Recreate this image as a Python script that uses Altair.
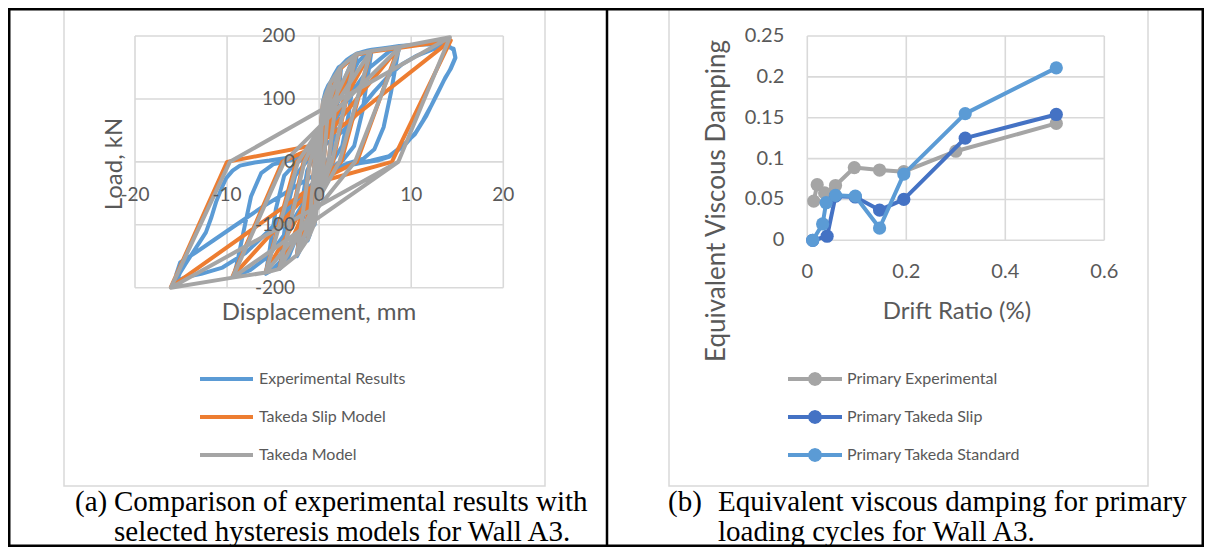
import altair as alt
import pandas as pd

# ---------------- panel (a): hysteresis loops ----------------
hyst_series = ["Experimental Results", "Takeda Slip Model", "Takeda Model"]
hyst_colors = ["#5B9BD5", "#ED7D31", "#A5A5A5"]

exp_disp = [0, 0.15, 0.3, 0.45, 0.35, 0.2, 0.05, -0.15, -0.3, -0.5, -0.4, -0.25, -0.1, 0.1, 0.3, 0.45,
            0.7, 1.0, 1.25, 1.1, 0.8, 0.5, 0.2, -0.2, -0.6, -1.0, -1.25, -1.1, -0.8, -0.5, -0.2, 0.2, 0.6, 1.0, 1.25,
            1.7, 2.1, 2.4, 2.2, 1.8, 1.3, 0.6, 0, -0.7, -1.4, -2.0, -2.4, -2.2, -1.8, -1.3, -0.6, 0, 0.7, 1.4, 2.0, 2.4,
            3.0, 3.6, 4.1, 3.8, 3.2, 2.5, 1.5, 0.5, -0.5, -1.5, -2.6, -3.5, -4.3, -4.0, -3.4, -2.6, -1.5, -0.5, 0.5, 1.5, 2.6, 3.5, 4.1,
            4.8, 5.3, 5.7, 5.4, 4.7, 3.8, 2.6, 1.2, 0, -1.3, -2.8, -4.2, -5.1, -5.8, -5.4, -4.7, -3.8, -2.6, -1.2, 0, 1.3, 2.8, 4.2, 5.1, 5.7,
            6.8, 7.8, 8.7, 8.4, 7.8, 7.0, 6.0, 4.8, 3.0, 1.5, 0, -1.5, -3.5, -5.5, -7.5, -9.3, -8.9, -8.2, -7.4, -6.3, -5.0, -3.0, -1.5, 0, 1.5, 3.5, 5.5, 7.5, 8.7,
            10.5, 12.5, 14.0, 14.6, 14.8, 14.3, 13.7, 12.9, 12.2, 11.3, 10.5, 9.5, 8.6, 7.6, 6.3, 4.5, 2.5, 0.8, -1.0, -3.0, -5.5, -8.0, -10.5, -12.8, -14.5, -15.5,
            -15.1, -14.5, -13.8, -13.0, -12.3, -11.7, -11.2, -10.6, -10.1, -9.4, -8.6, -7.0, -5.4, -3.2, -1.5, 0, 1.5, 3.0, 4.5, 6.0, 7.5, 9.0, 10.5, 12.2, 13.6, 14.6,
            14.8, 14.2, 13.5, 12.6, 11.6, 10.4, 9.0, 7.6, 5.6, 3.2, 1.0, -1.0, -3.5, -6.2, -9.0, -11.5, -13.5, -15.1, -15.5]
exp_load = [0, 40, 75, 98, 70, 30, 0, -35, -70, -100, -70, -30, 0, 35, 75, 98,
            112, 122, 127, 95, 45, 10, -10, -40, -85, -115, -125, -95, -45, -10, 10, 40, 85, 115, 127,
            140, 150, 153, 120, 60, 15, -8, -25, -60, -105, -138, -150, -118, -58, -14, 8, 25, 60, 105, 138, 153,
            162, 168, 172, 140, 75, 25, 2, -12, -35, -78, -125, -158, -170, -135, -70, -22, -2, 12, 35, 78, 125, 158, 172,
            175, 177, 178, 148, 80, 25, 3, -10, -30, -70, -120, -158, -172, -178, -142, -75, -22, -3, 10, 30, 70, 120, 158, 172, 178,
            180, 182, 184, 160, 110, 55, 20, 5, -3, -12, -30, -60, -110, -150, -172, -183, -160, -110, -55, -18, -4, 3, 12, 30, 60, 110, 150, 174, 184,
            186, 187, 185, 178, 165, 148, 134, 110, 90, 66, 47, 30, 19, 8, 2, -2, -8, -18, -38, -70, -110, -145, -168, -178, -183, -190,
            -176, -162, -146, -128, -112, -88, -64, -42, -26, -14, -6, -1, 2, 7, 14, 22, 35, 55, 85, 112, 136, 155, 168, 178, 184, 180,
            166, 146, 128, 102, 72, 44, 25, 9, 2, -5, -13, -25, -48, -72, -100, -125, -145, -160, -178]

slip_disp = [0, 0.4, 0.1, -0.5, -0.15, 0.4,
             1.2, 0.5, 0, -1.2, -0.5, 0, 1.2,
             2.3, 1.0, 0, -2.4, -1.0, 0, 2.3,
             4.0, 1.5, 0, -4.3, -1.7, 0, 4.0,
             5.6, 2.4, 0, -5.8, -2.5, 0, 5.6,
             8.6, 4.1, 0, -9.4, -4.0, 0, 8.6,
             14.3, 7.9, 0, -16.1, -10.0, 0, 14.3,
             7.9, 0, -16.1]
slip_load = [0, 92, 0, -95, 0, 92,
             122, 0, -15, -120, 0, 15, 122,
             148, 0, -20, -146, 0, 20, 148,
             170, 0, -25, -168, 0, 24, 170,
             175, 0, -28, -175, 0, 26, 175,
             181, 0, -30, -182, 0, 27, 181,
             193, 0, -32, -199, 0, 28, 193,
             0, -32, -199]

tak_disp = [0, 0.4, 0.1, -0.5, -0.15, 0.4,
            1.2, 0.5, -0.5, -1.2, -0.5, 1.2,
            2.3, 1.0, -1.2, -2.4, -1.0, 2.3,
            4.0, 1.4, -2.4, -4.3, -1.6, 4.0,
            5.6, 2.2, -4.3, -5.8, -2.3, 5.6,
            8.8, 3.9, -5.8, -9.4, -3.8, 8.8,
            14.2, 8.6, -9.4, -16.1, -9.7, 14.2,
            8.6, -16.1]
tak_load = [0, 95, 0, -98, 0, 95,
            125, 0, -98, -122, 0, 125,
            150, 0, -122, -148, 0, 150,
            171, 0, -148, -170, 0, 171,
            176, 0, -170, -176, 0, 176,
            183, 0, -176, -184, 0, 183,
            198, 0, -184, -200, 0, 198,
            0, -200]

disp_ticks = [-20, -10, 0, 10, 20]
disp_labels = ["-20", "-10", "0", "10", "20"]
load_ticks = [-200, -100, 0, 100, 200]
load_labels = ["-200", "-100", "0", "100", "200"]
hyst_titles = ["Displacement, mm", "Load, kN"]

# ---------------- panel (b): equivalent viscous damping ----------------
damp_series = ["Primary Experimental", "Primary Takeda Slip", "Primary Takeda Standard"]
damp_colors = ["#A5A5A5", "#4472C4", "#5B9BD5"]

drift_exp = [0.013, 0.02, 0.035, 0.057, 0.095, 0.146, 0.195, 0.30, 0.503]
evd_exp = [0.048, 0.068, 0.058, 0.067, 0.089, 0.086, 0.084, 0.109, 0.143]
drift_slip = [0.011, 0.04, 0.057, 0.097, 0.146, 0.195, 0.319, 0.503]
evd_slip = [0.0, 0.005, 0.054, 0.053, 0.037, 0.050, 0.125, 0.154]
drift_std = [0.011, 0.031, 0.038, 0.057, 0.097, 0.146, 0.195, 0.319, 0.503]
evd_std = [0.0, 0.020, 0.046, 0.055, 0.054, 0.015, 0.081, 0.155, 0.211]

drift_ticks = [0, 0.2, 0.4, 0.6]
drift_labels = ["0", "0.2", "0.4", "0.6"]
damp_ticks = [0, 0.05, 0.1, 0.15, 0.2, 0.25]
damp_labels = ["0", "0.05", "0.1", "0.15", "0.2", "0.25"]
damp_titles = ["Drift Ratio (%)", "Equivalent Viscous Damping"]

caption_a = ["(a)", "Comparison of experimental results with", "selected hysteresis models for Wall A3."]
caption_b = ["(b)", "Equivalent viscous damping for primary", "loading cycles for Wall A3."]

# ---------------- styling ----------------
W, H = 1196, 539
FONT = "Lato"
TXT = "#595959"
GRID = "#D9D9D9"

dummy = pd.DataFrame({"k": [0]})


def series_df(name, xs, ys, xname, yname):
    return pd.DataFrame({"series": name, "i": list(range(len(xs))), xname: xs, yname: ys})


def free_text(txt, x, y, size, angle=0, font=FONT, color=TXT, align="center", baseline="middle"):
    return alt.Chart(dummy).mark_text(text=txt, align=align, baseline=baseline, angle=angle,
                                      font=font, fontSize=size, color=color).encode(
        x=alt.value(x), y=alt.value(y))


def grid_layers(xticks, yticks, xs, ys, xlo, xhi, ylo, yhi):
    vg = alt.Chart(pd.DataFrame({"gx": xticks})).mark_rule(color=GRID, strokeWidth=1.6).encode(
        x=alt.X("gx:Q", scale=xs, axis=None),
        y=alt.YDatum(ylo, scale=ys, axis=None), y2=alt.Y2Datum(yhi))
    hg = alt.Chart(pd.DataFrame({"gy": yticks})).mark_rule(color=GRID, strokeWidth=1.6).encode(
        y=alt.Y("gy:Q", scale=ys, axis=None),
        x=alt.XDatum(xlo, scale=xs, axis=None), x2=alt.X2Datum(xhi))
    return [vg, hg]


def tick_label_layers(xticks, xlabels, yticks, ylabels, xs, ys, size, xpad, ypad):
    xl = alt.Chart(pd.DataFrame({"gx": xticks, "lab": xlabels})).mark_text(
        font=FONT, fontSize=size, color=TXT, align="center", baseline="top", dy=xpad).encode(
        x=alt.X("gx:Q", scale=xs, axis=None),
        y=alt.YDatum(0, scale=ys, axis=None), text="lab:N")
    yl = alt.Chart(pd.DataFrame({"gy": yticks, "lab": ylabels})).mark_text(
        font=FONT, fontSize=size, color=TXT, align="right", baseline="middle", dx=-ypad).encode(
        y=alt.Y("gy:Q", scale=ys, axis=None),
        x=alt.XDatum(0, scale=xs, axis=None), text="lab:N")
    return [xl, yl]


# ---- panel a
xs_a = alt.Scale(domain=[-20, 20], range=[127, 495.3], nice=False, zero=False)
ys_a = alt.Scale(domain=[-200, 200], range=[279.7, 28], nice=False, zero=False)
col_a = alt.Scale(domain=hyst_series, range=hyst_colors)

leg_a = alt.Legend(title=None, orient="none", legendX=190, legendY=361, symbolType="stroke",
                   symbolSize=2809, symbolStrokeWidth=4, clipHeight=20, rowPadding=18,
                   labelFont=FONT, labelFontSize=16, labelColor=TXT, labelOffset=4,
                   padding=0, labelLimit=400)

hyst_data = [(exp_disp, exp_load), (slip_disp, slip_load), (tak_disp, tak_load)]
hyst_layers = []
for name, (dd, ll) in zip(hyst_series, hyst_data):
    hyst_layers.append(
        alt.Chart(series_df(name, dd, ll, "disp", "load")).mark_line(
            strokeWidth=4, strokeJoin="round", strokeCap="round").encode(
            x=alt.X("disp:Q", scale=xs_a, axis=None),
            y=alt.Y("load:Q", scale=ys_a, axis=None),
            color=alt.Color("series:N", scale=col_a, legend=leg_a),
            order=alt.Order("i:Q"))
    )
panel_a = alt.layer(
    *grid_layers(disp_ticks, load_ticks, xs_a, ys_a, -20, 20, -200, 200),
    *hyst_layers,
    *tick_label_layers(disp_ticks, disp_labels, load_ticks, load_labels, xs_a, ys_a, 19, 24, 24),
)

# ---- panel b
xs_b = alt.Scale(domain=[0, 0.6], range=[799.3, 1096.3], nice=False, zero=False)
ys_b = alt.Scale(domain=[0, 0.25], range=[232.3, 28], nice=False, zero=False)
col_b = alt.Scale(domain=damp_series, range=damp_colors)

dot_path = ("M-1,0L1,0"
            "M0.185,0L0.16,0.0925L0.0925,0.16L0,0.185L-0.0925,0.16L-0.16,0.0925L-0.185,0"
            "L-0.16,-0.0925L-0.0925,-0.16L0,-0.185L0.0925,-0.16L0.16,-0.0925Z"
            "M0.067,0L0.0335,0.058L-0.0335,0.058L-0.067,0L-0.0335,-0.058L0.0335,-0.058Z")
leg_b = alt.Legend(title=None, orient="none", legendX=778, legendY=361, symbolType=dot_path,
                   symbolSize=2916, symbolStrokeWidth=4, clipHeight=20, rowPadding=18,
                   labelFont=FONT, labelFontSize=16, labelColor=TXT, labelOffset=3,
                   padding=0, labelLimit=400)

damp_data = [(drift_exp, evd_exp), (drift_slip, evd_slip), (drift_std, evd_std)]
damp_layers = []
for name, (dx, dy) in zip(damp_series, damp_data):
    df = series_df(name, dx, dy, "drift", "evd")
    damp_layers.append(
        alt.Chart(df).mark_line(strokeWidth=4, strokeJoin="round").encode(
            x=alt.X("drift:Q", scale=xs_b, axis=None),
            y=alt.Y("evd:Q", scale=ys_b, axis=None),
            color=alt.Color("series:N", scale=col_b, legend=leg_b),
            order=alt.Order("i:Q"))
    )
    damp_layers.append(
        alt.Chart(df).mark_circle(size=175, opacity=1).encode(
            x=alt.X("drift:Q", scale=xs_b, axis=None),
            y=alt.Y("evd:Q", scale=ys_b, axis=None),
            color=alt.Color("series:N", scale=col_b, legend=None))
    )
panel_b = alt.layer(
    *grid_layers(drift_ticks, damp_ticks, xs_b, ys_b, 0, 0.6, 0, 0.25),
    *tick_label_layers(drift_ticks, drift_labels, damp_ticks, damp_labels, xs_b, ys_b, 20, 22, 23),
    *damp_layers,
)


# ---- decorations: table borders, chart frames, axis titles, captions
def box(x1, x2, y1, y2, color, width):
    return alt.Chart(dummy).mark_rect(fill="#ffffff", fillOpacity=0, stroke=color, strokeWidth=width).encode(
        x=alt.value(x1), x2=alt.value(x2), y=alt.value(y1), y2=alt.value(y2))


frame_a = box(56, 537, 1.5, 478, GRID, 1.5)
frame_b = box(661, 1140, 1.5, 478, GRID, 1.5)
outer = box(1.25, W - 1.25, 1.25, H - 1.25, "#000000", 2.5)
divider = alt.Chart(dummy).mark_rule(color="#000000", strokeWidth=2.5).encode(
    x=alt.value(599), y=alt.value(0), y2=alt.value(H))

titles = [
    free_text(hyst_titles[0], 311, 305, 24),
    free_text(hyst_titles[1], 107, 156, 24, angle=270),
    free_text(damp_titles[0], 949, 304, 24),
    free_text(damp_titles[1], 709, 193, 26, angle=270),
]

CAP = dict(font="Liberation Serif", color="#000000", align="left", baseline="alphabetic")
caps = [
    free_text(caption_a[0], 67, 503, 29, **CAP), free_text(caption_a[1], 106, 503, 29, **CAP),
    free_text(caption_a[2], 106, 533, 29, **CAP),
    free_text(caption_b[0], 660, 503, 29, **CAP), free_text(caption_b[1], 710, 503, 29, **CAP),
    free_text(caption_b[2], 710, 533, 29, **CAP),
]

chart = alt.layer(frame_a, frame_b, panel_a, panel_b, outer, divider, *titles, *caps).resolve_scale(
    x="independent", y="independent", color="independent"
).resolve_legend(color="independent").properties(
    width=W, height=H, autosize=alt.AutoSizeParams(type="none"), padding=0
).configure_view(stroke=None).configure(background="#ffffff")

chart.save("out.html", embed_options={"renderer": "svg", "actions": False})
